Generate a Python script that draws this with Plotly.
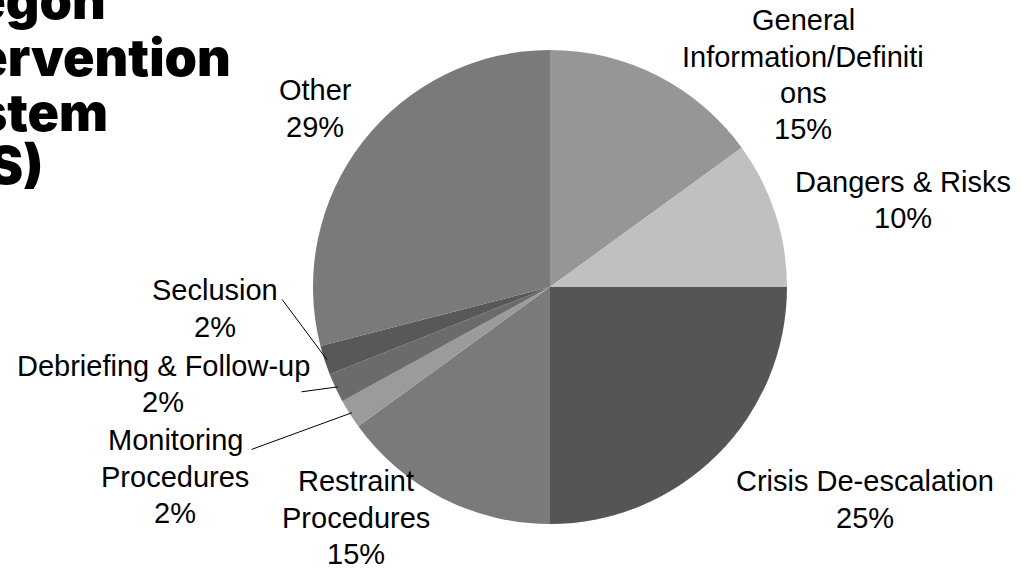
import math
import plotly.graph_objects as go

# ---- data ----
categories = ["General Information/Definitions", "Dangers & Risks", "Crisis De-escalation",
              "Restraint Procedures", "Monitoring Procedures", "Debriefing & Follow-up",
              "Seclusion", "Other"]
values = [15, 10, 25, 15, 2, 2, 2, 29]
label_lines = [["General", "Information/Definiti", "ons"], ["Dangers & Risks"],
               ["Crisis De-escalation"], ["Restraint", "Procedures"],
               ["Monitoring", "Procedures"], ["Debriefing & Follow-up"],
               ["Seclusion"], ["Other"]]
colors = ["#969696", "#c0c0c0", "#555555", "#7a7a7a", "#9b9b9b", "#6b6b6b", "#585858", "#7a7a7a"]
title_lines = ["Oregon", "Intervention", "System", "(OIS)"]

# ---- layout (pixels) ----
W, H = 1022, 569
CX, CY, R = 550, 287, 237
label_pos = [(803, 20), (903, 182), (865, 481), (356, 481),
             (175, 440), (163, 366), (215, 290), (315, 90)]
leader_start = {4: (250, 450), 5: (300, 392), 6: (281, 298)}
LINE = 36.5
LABEL_FONT = dict(family="Liberation Sans, Arial, sans-serif", size=29, color="#000000")

def px(x):
    return x / W

def py(y):
    return 1 - y / H

fig = go.Figure(go.Pie(
    labels=categories, values=values, sort=False, direction="clockwise", rotation=0,
    marker=dict(colors=colors, line=dict(width=0)), textinfo="none", hoverinfo="label+percent",
    showlegend=False,
    domain=dict(x=[px(CX - R), px(CX + R)], y=[py(CY + R), py(CY - R)]),
))

annotations = []
total = sum(values)
cum = 0
for i, v in enumerate(values):
    lines = label_lines[i] + [f"{round(100 * v / total)}%"]
    lx, ly = label_pos[i]
    for k, t in enumerate(lines):
        annotations.append(dict(x=px(lx), y=py(ly + k * LINE), xref="paper", yref="paper",
                                text=t, showarrow=False, xanchor="center", yanchor="middle",
                                font=LABEL_FONT))
    mid = (cum + v / 2) / total * 2 * math.pi
    cum += v
    if i in leader_start:
        ex = CX + R * math.sin(mid) * 0.99
        ey = CY - R * math.cos(mid) * 0.99
        sx, sy = leader_start[i]
        annotations.append(dict(x=px(ex), y=py(ey), xref="paper", yref="paper", text="",
                                showarrow=True, arrowhead=0, arrowwidth=1, arrowcolor="#000000",
                                ax=sx - ex, ay=sy - ey, standoff=0, startstandoff=0))

# title (cut off at the left edge as in the original slide)
title_right = [108, 233, 110, 45]
title_y = [0, 57, 112, 165]
for t, rx, ty in zip(title_lines, title_right, title_y):
    annotations.append(dict(x=px(rx), y=py(ty), xref="paper", yref="paper", text=t,
                            showarrow=False, xanchor="right", yanchor="middle",
                            font=dict(family="Inter, Roboto, DejaVu Sans, sans-serif", size=52,
                                      color="#000000", weight=900)))

fig.update_layout(width=W, height=H, margin=dict(l=0, r=0, t=0, b=0),
                  paper_bgcolor="white", plot_bgcolor="white", annotations=annotations)
fig.write_html("out.html", config={"displayModeBar": False},
               post_script="document.body.style.margin='0';")
